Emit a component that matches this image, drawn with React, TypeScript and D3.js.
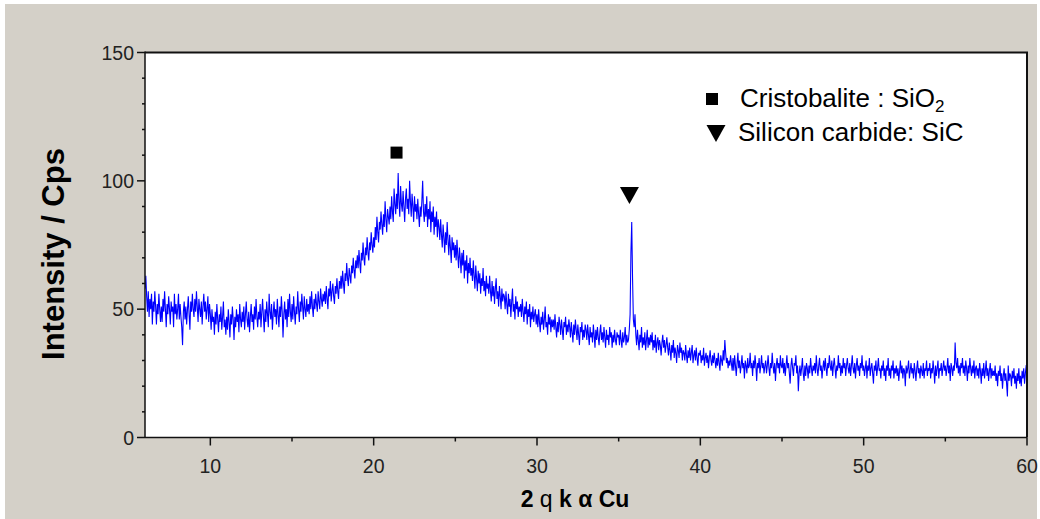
import React from "react";
import * as d3 from "d3";

const X_START = 6.0;
const X_STEP = 0.05;
// Intensity (Cps), one value every 0.05 deg from 6.00 to 60.00 (20 per row = 1 degree)
const intensity: number[] = [
  58,63,55,49,57,47,54,50,56,44,53,49,57,51,44,52,48,56,50,45,
  51,45,54,49,57,50,43,52,48,55,50,44,53,49,51,43,56,48,52,46,
  50,56,46,52,47,43,36,49,53,46,51,44,50,55,48,42,53,49,56,50,
  47,54,49,57,51,45,54,50,47,53,44,51,56,49,53,46,50,55,45,52,
  48,42,50,45,47,40,49,44,52,46,41,48,45,51,42,47,53,43,46,40,
  47,42,50,45,39,48,44,51,46,38,47,43,50,45,48,41,52,46,43,49,
  45,51,42,48,53,46,43,49,41,47,52,45,48,42,51,46,54,47,43,49,
  46,52,43,49,54,47,41,50,45,53,48,43,56,49,46,52,42,48,53,47,
  50,44,54,48,43,51,47,55,49,39,48,53,46,50,43,54,47,56,49,45,
  52,46,55,49,44,51,48,57,50,45,53,49,56,51,46,55,50,47,54,49,
  52,48,55,50,57,51,47,54,50,56,52,49,57,53,50,58,54,51,56,53,
  57,52,59,54,50,58,55,61,53,57,60,55,52,59,56,62,57,54,61,58,
  63,58,65,60,56,64,61,68,62,59,66,63,60,67,64,70,65,62,69,66,
  71,66,73,68,64,72,69,76,70,67,74,71,78,72,69,76,73,80,75,72,
  78,74,82,77,86,80,76,84,81,88,83,79,87,82,92,85,80,89,86,83,
  90,85,94,88,84,97,91,87,95,89,103,92,86,98,91,88,96,90,84,93,
  97,89,93,87,100,92,86,95,90,84,94,88,91,85,93,87,82,90,86,92,
  100,88,84,91,86,94,82,89,85,92,80,88,84,90,79,86,82,88,78,85,
  82,77,85,79,74,83,78,72,80,75,84,77,71,79,74,68,78,73,76,70,
  75,69,77,71,66,74,70,64,72,67,73,62,69,65,71,60,68,64,70,63,
  66,61,69,63,58,67,62,57,65,60,64,56,62,59,66,57,61,55,63,58,
  60,56,63,57,53,61,55,59,52,58,62,54,57,51,59,55,50,58,53,56,
  55,50,57,52,48,56,51,54,47,53,58,49,52,46,55,50,53,47,51,49,
  52,47,54,49,45,51,48,53,44,50,47,52,43,49,46,51,45,48,50,44,
  48,43,50,45,41,47,44,49,42,46,51,43,45,40,48,44,47,41,46,43,
  46,42,48,43,39,45,41,47,44,40,46,42,38,45,43,47,40,44,41,46,
  43,39,45,41,37,44,40,46,42,38,44,40,36,43,41,45,38,42,39,44,
  42,38,44,40,36,43,39,41,37,44,40,35,42,38,43,39,36,41,44,38,
  41,37,43,39,35,42,38,40,36,43,39,41,35,40,37,42,38,36,41,39,
  40,36,42,38,35,41,37,39,43,36,40,37,38,42,48,72,84,62,46,43,
  48,40,36,42,38,34,40,37,43,35,39,36,41,34,38,42,35,39,36,40,
  37,41,34,38,35,40,33,37,39,34,38,36,32,37,40,35,38,33,36,39,
  35,32,37,34,30,36,33,38,31,35,33,29,36,34,31,37,33,35,30,34,
  33,30,36,32,29,34,31,35,30,33,36,29,32,34,30,35,31,28,33,32,
  34,29,32,30,35,28,31,33,29,32,27,31,34,30,28,32,29,33,30,27,
  31,28,33,29,26,32,30,28,34,30,38,33,29,31,27,30,28,32,29,26,
  31,26,32,28,24,29,33,27,30,25,28,32,27,29,23,30,28,25,31,27,
  28,33,27,29,24,30,27,32,28,22,29,27,31,25,28,32,27,29,25,28,
  30,25,28,32,27,24,29,27,33,28,25,29,22,28,31,27,29,25,32,28,
  27,31,25,29,24,28,32,27,29,25,21,28,31,27,24,29,28,32,25,28,
  18,25,28,24,27,31,25,22,28,24,29,27,23,28,25,31,27,24,28,26,
  29,25,32,27,24,28,31,26,28,23,27,30,26,31,27,24,29,27,32,28,
  26,30,24,28,31,27,23,28,26,32,27,29,24,28,25,31,27,29,24,28,
  31,27,25,29,24,28,32,27,25,29,23,28,31,26,28,24,29,27,32,26,
  28,24,27,30,23,28,26,31,24,27,29,25,21,28,26,30,24,27,31,26,
  27,23,28,26,30,24,27,22,28,26,31,24,27,23,28,26,30,23,27,25,
  28,24,27,22,26,30,25,28,23,27,26,20,28,25,27,30,23,26,29,25,
  27,23,29,26,22,27,30,25,27,23,28,26,24,29,23,27,26,30,24,27,
  26,29,23,27,25,30,26,21,28,24,27,30,23,27,26,29,24,27,30,26,
  28,24,27,31,25,28,22,29,27,24,28,26,37,29,27,31,25,28,24,29,
  27,31,25,28,24,30,27,22,28,25,31,27,24,28,25,30,23,27,28,24,
  27,23,29,26,21,27,24,29,23,26,30,24,27,22,26,29,23,27,24,26,
  24,28,22,25,20,26,24,28,22,25,19,24,27,22,25,21,16,28,22,25,
  24,20,26,23,27,21,24,19,25,22,27,21,24,20,26,23,27,21,25,28,
  28,
];

const xMajorTicks = [10, 20, 30, 40, 50, 60];
const xMinorTicks = [15, 25, 35, 45, 55];
const yMajorTicks = [0, 50, 100, 150];
const yMinorTicks = [10, 20, 30, 40, 60, 70, 80, 90, 110, 120, 130, 140];

const legendItems = [
  { marker: "square", label: "Cristobalite : SiO", sub: "2" },
  { marker: "triangle", label: "Silicon carbide: SiC", sub: "" },
];
const peakMarkers = [
  { marker: "square", x: 21.4, y: 111 },
  { marker: "triangle", x: 35.66, y: 94.5 },
];

const W = 1040;
const H = 519;
const M = { left: 145, right: 1027, top: 52.5, bottom: 437.5 };

export default function App() {
  const x = d3.scaleLinear().domain([6, 60]).range([M.left, M.right]);
  const y = d3.scaleLinear().domain([0, 150]).range([M.bottom, M.top]);
  const pts = intensity.map((v, i) => [X_START + i * X_STEP, v] as [number, number]);
  const line = d3
    .line<[number, number]>()
    .x((d) => x(d[0]))
    .y((d) => y(d[1]));

  const font = "'Liberation Sans', Arial, sans-serif";
  const tickColor = "#222";

  const drawMarker = (kind: string, cx: number, cy: number, key: string) =>
    kind === "square" ? (
      <rect key={key} x={cx - 6} y={cy - 6} width={12} height={12} fill="#000" />
    ) : (
      <path key={key} d={`M${cx - 9.5},${cy - 8} L${cx + 9.5},${cy - 8} L${cx},${cy + 9} Z`} fill="#000" />
    );

  return (
    <svg
      width={W}
      height={H}
      style={{ position: "fixed", left: 0, top: 0, display: "block" }}
      fontFamily={font}
    >
      <rect x={0} y={0} width={W} height={H} fill="#ffffff" />
      <rect x={5} y={4} width={1032} height={H - 4} fill="#d4d0c8" />
      <rect x={M.left} y={M.top} width={M.right - M.left} height={M.bottom - M.top} fill="#ffffff" />

      <clipPath id="plotclip">
        <rect x={M.left} y={M.top} width={M.right - M.left} height={M.bottom - M.top} />
      </clipPath>
      <path d={line(pts) || ""} fill="none" stroke="#0000ff" strokeWidth={1.1} clipPath="url(#plotclip)" />

      {/* frame */}
      <line x1={M.left} x2={M.right + 1} y1={M.top} y2={M.top} stroke="#111" strokeWidth={2} />
      <line x1={M.right} x2={M.right} y1={M.top} y2={M.bottom} stroke="#111" strokeWidth={2} />
      <line x1={M.left} x2={M.left} y1={M.top - 1} y2={M.bottom} stroke="#111" strokeWidth={1.5} />
      <line x1={M.left} x2={M.right} y1={M.bottom} y2={M.bottom} stroke="#111" strokeWidth={1.5} />

      {/* y ticks */}
      {yMajorTicks.map((t) => (
        <g key={"ym" + t}>
          <line x1={M.left - 8} x2={M.left} y1={y(t)} y2={y(t)} stroke="#111" strokeWidth={1.5} />
          <text x={M.left - 11} y={y(t)} dy="0.36em" textAnchor="end" fontSize={19.5} fill={tickColor}>
            {t}
          </text>
        </g>
      ))}
      {yMinorTicks.map((t) => (
        <line key={"yn" + t} x1={M.left - 3} x2={M.left} y1={y(t)} y2={y(t)} stroke="#111" strokeWidth={1.5} />
      ))}

      {/* x ticks */}
      {xMajorTicks.map((t) => (
        <g key={"xm" + t}>
          <line x1={x(t)} x2={x(t)} y1={M.bottom} y2={M.bottom + 8} stroke="#111" strokeWidth={1.5} />
          <text x={x(t)} y={M.bottom + 35} textAnchor="middle" fontSize={19.5} fill={tickColor}>
            {t}
          </text>
        </g>
      ))}
      {xMinorTicks.map((t) => (
        <line key={"xn" + t} x1={x(t)} x2={x(t)} y1={M.bottom} y2={M.bottom + 4} stroke="#111" strokeWidth={1.5} />
      ))}

      {/* axis titles */}
      <text
        transform={`translate(64,254) rotate(-90)`}
        textAnchor="middle"
        fontSize={31}
        fontWeight="bold"
        fill="#000"
      >
        Intensity / Cps
      </text>
      <text x={575} y={507} textAnchor="middle" fontSize={23} fill="#000">
        <tspan fontWeight="bold">2</tspan>
        <tspan> q </tspan>
        <tspan fontWeight="bold">k α Cu</tspan>
      </text>

      {/* peak markers */}
      {peakMarkers.map((p, i) => drawMarker(p.marker, x(p.x), y(p.y), "pk" + i))}

      {/* legend */}
      {legendItems.map((it, i) => {
        const by = 107 + i * 34;
        return (
          <g key={"lg" + i}>
            {drawMarker(it.marker, it.marker === "square" ? 712 : 716, by - 8, "lm" + i)}
            <text x={it.marker === "square" ? 740 : 738} y={by} fontSize={26} fill="#000">
              {it.label}
              {it.sub && (
                <tspan fontSize={17} dy={5}>
                  {it.sub}
                </tspan>
              )}
            </text>
          </g>
        );
      })}
    </svg>
  );
}
